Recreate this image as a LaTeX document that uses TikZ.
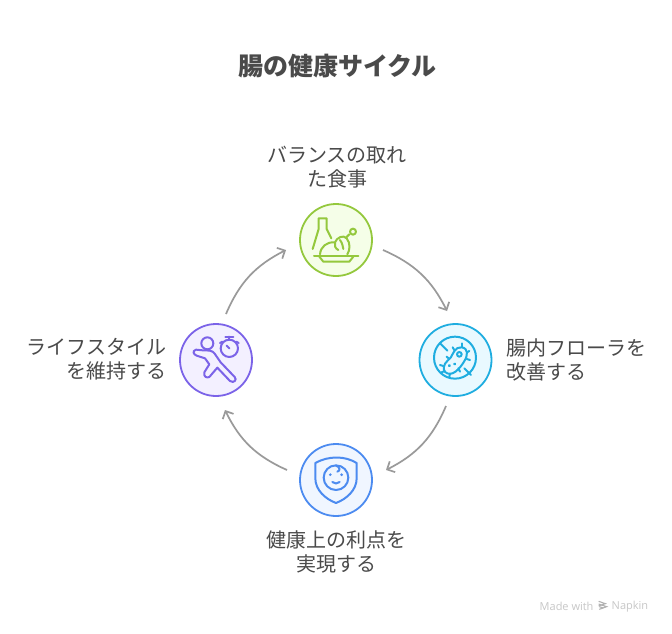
\documentclass[tikz,border=0pt]{standalone}
\usepackage{fontspec}
\setmainfont{Noto Sans CJK JP}
\newfontfamily\latinfont{Open Sans}
\usetikzlibrary{arrows.meta}
\definecolor{txt}{HTML}{4A4A4A}
\definecolor{arrowgray}{HTML}{9A9A9A}
\definecolor{gline}{HTML}{94C83D}\definecolor{gfill}{HTML}{F5FEE8}
\definecolor{bline}{HTML}{1FADE0}\definecolor{bfill}{HTML}{E9F9FF}
\definecolor{uline}{HTML}{4C8BF0}\definecolor{ufill}{HTML}{F0F6FF}
\definecolor{pline}{HTML}{7B63E8}\definecolor{pfill}{HTML}{F3F0FF}
\tikzset{
  ringnode/.style={circle,draw=#1line,fill=#1fill,line width=1.8pt,minimum size=72pt,inner sep=0pt},
  label text/.style={text=txt,font=\fontsize{20}{24}\selectfont,inner sep=0pt},
  cyclearrow/.style={draw=arrowgray,line width=1.7pt,-{Straight Barb[length=6pt,width=12pt,line width=1.7pt]}},
  iconline/.style={draw=#1line,line width=2pt,line cap=round,line join=round,fill=none},
  zoomed/.style={x=0.3333pt,y=-0.3333pt}
}
\begin{document}
\begin{tikzpicture}[x=1pt,y=-1pt]
\path[use as bounding box,fill=white] (0,0) rectangle (672,634);
\node[text=txt,font=\fontsize{25}{28}\bfseries\selectfont,inner sep=0pt] (title) at (337.5,66.5) {腸の健康サイクル};

\node[ringnode=g] (food) at (336,240) {};
\node[ringnode=b] (flora) at (455.5,360) {};
\node[ringnode=u] (benefit) at (336,480) {};
\node[ringnode=p] (life) at (216,360) {};

\node[label text,align=center] (foodtxt) at (337,167.5) {バランスの取れ\\た食事};
\node[label text,align=left,anchor=west] (floratxt) at (506,359.5) {腸内フローラを\\改善する};
\node[label text,align=center] (benefittxt) at (336,551.5) {健康上の利点を\\実現する};
\node[label text,align=right,anchor=east] (lifetxt) at (166.5,359.5) {ライフスタイル\\を維持する};

\coordinate (a1s) at (383,250);\coordinate (a1e) at (447,311);
\coordinate (a2s) at (446,406);\coordinate (a2e) at (386,470);
\coordinate (a3s) at (287,470);\coordinate (a3e) at (225,410);
\coordinate (a4s) at (226,314);\coordinate (a4e) at (286,250);
\path[cyclearrow] (a1s) to[bend left=20] (a1e);
\path[cyclearrow] (a2s) to[bend left=20] (a2e);
\path[cyclearrow] (a3s) to[bend left=20] (a3e);
\path[cyclearrow] (a4s) to[bend left=20] (a4e);

% green icon
\begin{scope}[shift={(290,195)},zoomed,iconline=g]
\draw (68,162) -- (86,102) -- (86,70) -- (110,70) -- (110,102) -- (124,130);
\draw (72,182) -- (205,182);
\draw (88,185) -- (100,200) -- (178,200) -- (190,185);
\draw (90,178) .. controls (92,155) and (110,140) .. (135,142) .. controls (140,128) and (160,118) .. (170,130) .. controls (182,145) and (180,165) .. (172,178);
\draw (135,142) .. controls (132,150) and (135,160) .. (145,165);
\draw (150,135) .. controls (158,145) and (158,155) .. (160,162);
\draw (178,118) -- (168,128);
\draw (189,110) circle (9);
\end{scope}

% blue icon
\begin{scope}[shift={(410,315)},zoomed,iconline=b]
\draw (135,128) circle (63);
\draw (90,85) -- (112,107);
\draw (163,160) -- (183,180);
\draw (104,170) .. controls (95,150) and (110,140) .. (122,128) .. controls (130,115) and (135,95) .. (155,97) .. controls (175,100) and (175,120) .. (162,140) .. controls (150,160) and (125,190) .. (104,170) -- cycle;
\draw (148,118) circle (7);
\draw (118,152) circle (1.5);
\draw (134,147) circle (1.5);
\draw (90,150) -- (100,153);
\draw (95,172) -- (104,168);
\draw (110,125) -- (118,132);
\draw (128,97) -- (134,107);
\draw (155,85) -- (155,96);
\draw (178,108) -- (171,112);
\draw (180,135) -- (170,132);
\draw (150,170) -- (145,160);
\draw (118,185) -- (120,176);
\end{scope}

% shield icon
\begin{scope}[shift={(290,435)},zoomed,iconline=u]
\draw (76,84) .. controls (115,62) and (165,62) .. (200,84) -- (200,130) .. controls (200,165) and (170,192) .. (138,204) .. controls (106,192) and (76,165) .. (76,130) -- cycle;
\draw (138,128) circle (37);
\draw (138,92) .. controls (150,95) and (152,108) .. (142,110);
\fill[uline,draw=none] (121,119) circle (4.5);
\fill[uline,draw=none] (155,119) circle (4.5);
\draw (127,141) .. controls (133,147) and (143,147) .. (149,141);
\end{scope}

% runner icon
\begin{scope}[shift={(170,315)},zoomed,iconline=p]
\draw (112,85) circle (18);
\draw (178,100) circle (26);
\draw (178,100) -- (170,92);
\draw (178,74) -- (178,65);
\draw (166,66) -- (190,66);
\draw (150,84) -- (157,80);
\draw (206,84) -- (199,80);
\draw (98,106) -- (78,104) .. controls (66,108) and (70,118) .. (80,122) -- (105,130) -- (118,148) -- (103,172) .. controls (100,185) and (110,190) .. (118,186) -- (142,158) -- (180,198) .. controls (192,206) and (202,194) .. (194,186) -- (152,142) -- (134,116) .. controls (128,106) and (115,106) .. (98,106);
\end{scope}

% footer
\node[text=black!22,font=\latinfont\fontsize{11}{12}\selectfont,inner sep=0pt,anchor=west] (made) at (539.5,606.5) {Made with};
\node[text=black!22,font=\latinfont\fontsize{11}{12}\selectfont,inner sep=0pt,anchor=west] (napkin) at (611.5,606.5) {Napkin};
\begin{scope}[shift={(530,590)},zoomed,draw=black!30,line width=1.1pt]
\draw (206,34) -- (226,41) -- (206,48);
\draw (206,42) -- (230,50) -- (208,58);
\draw (208,50) -- (220,54);
\end{scope}
\end{tikzpicture}
\end{document}
